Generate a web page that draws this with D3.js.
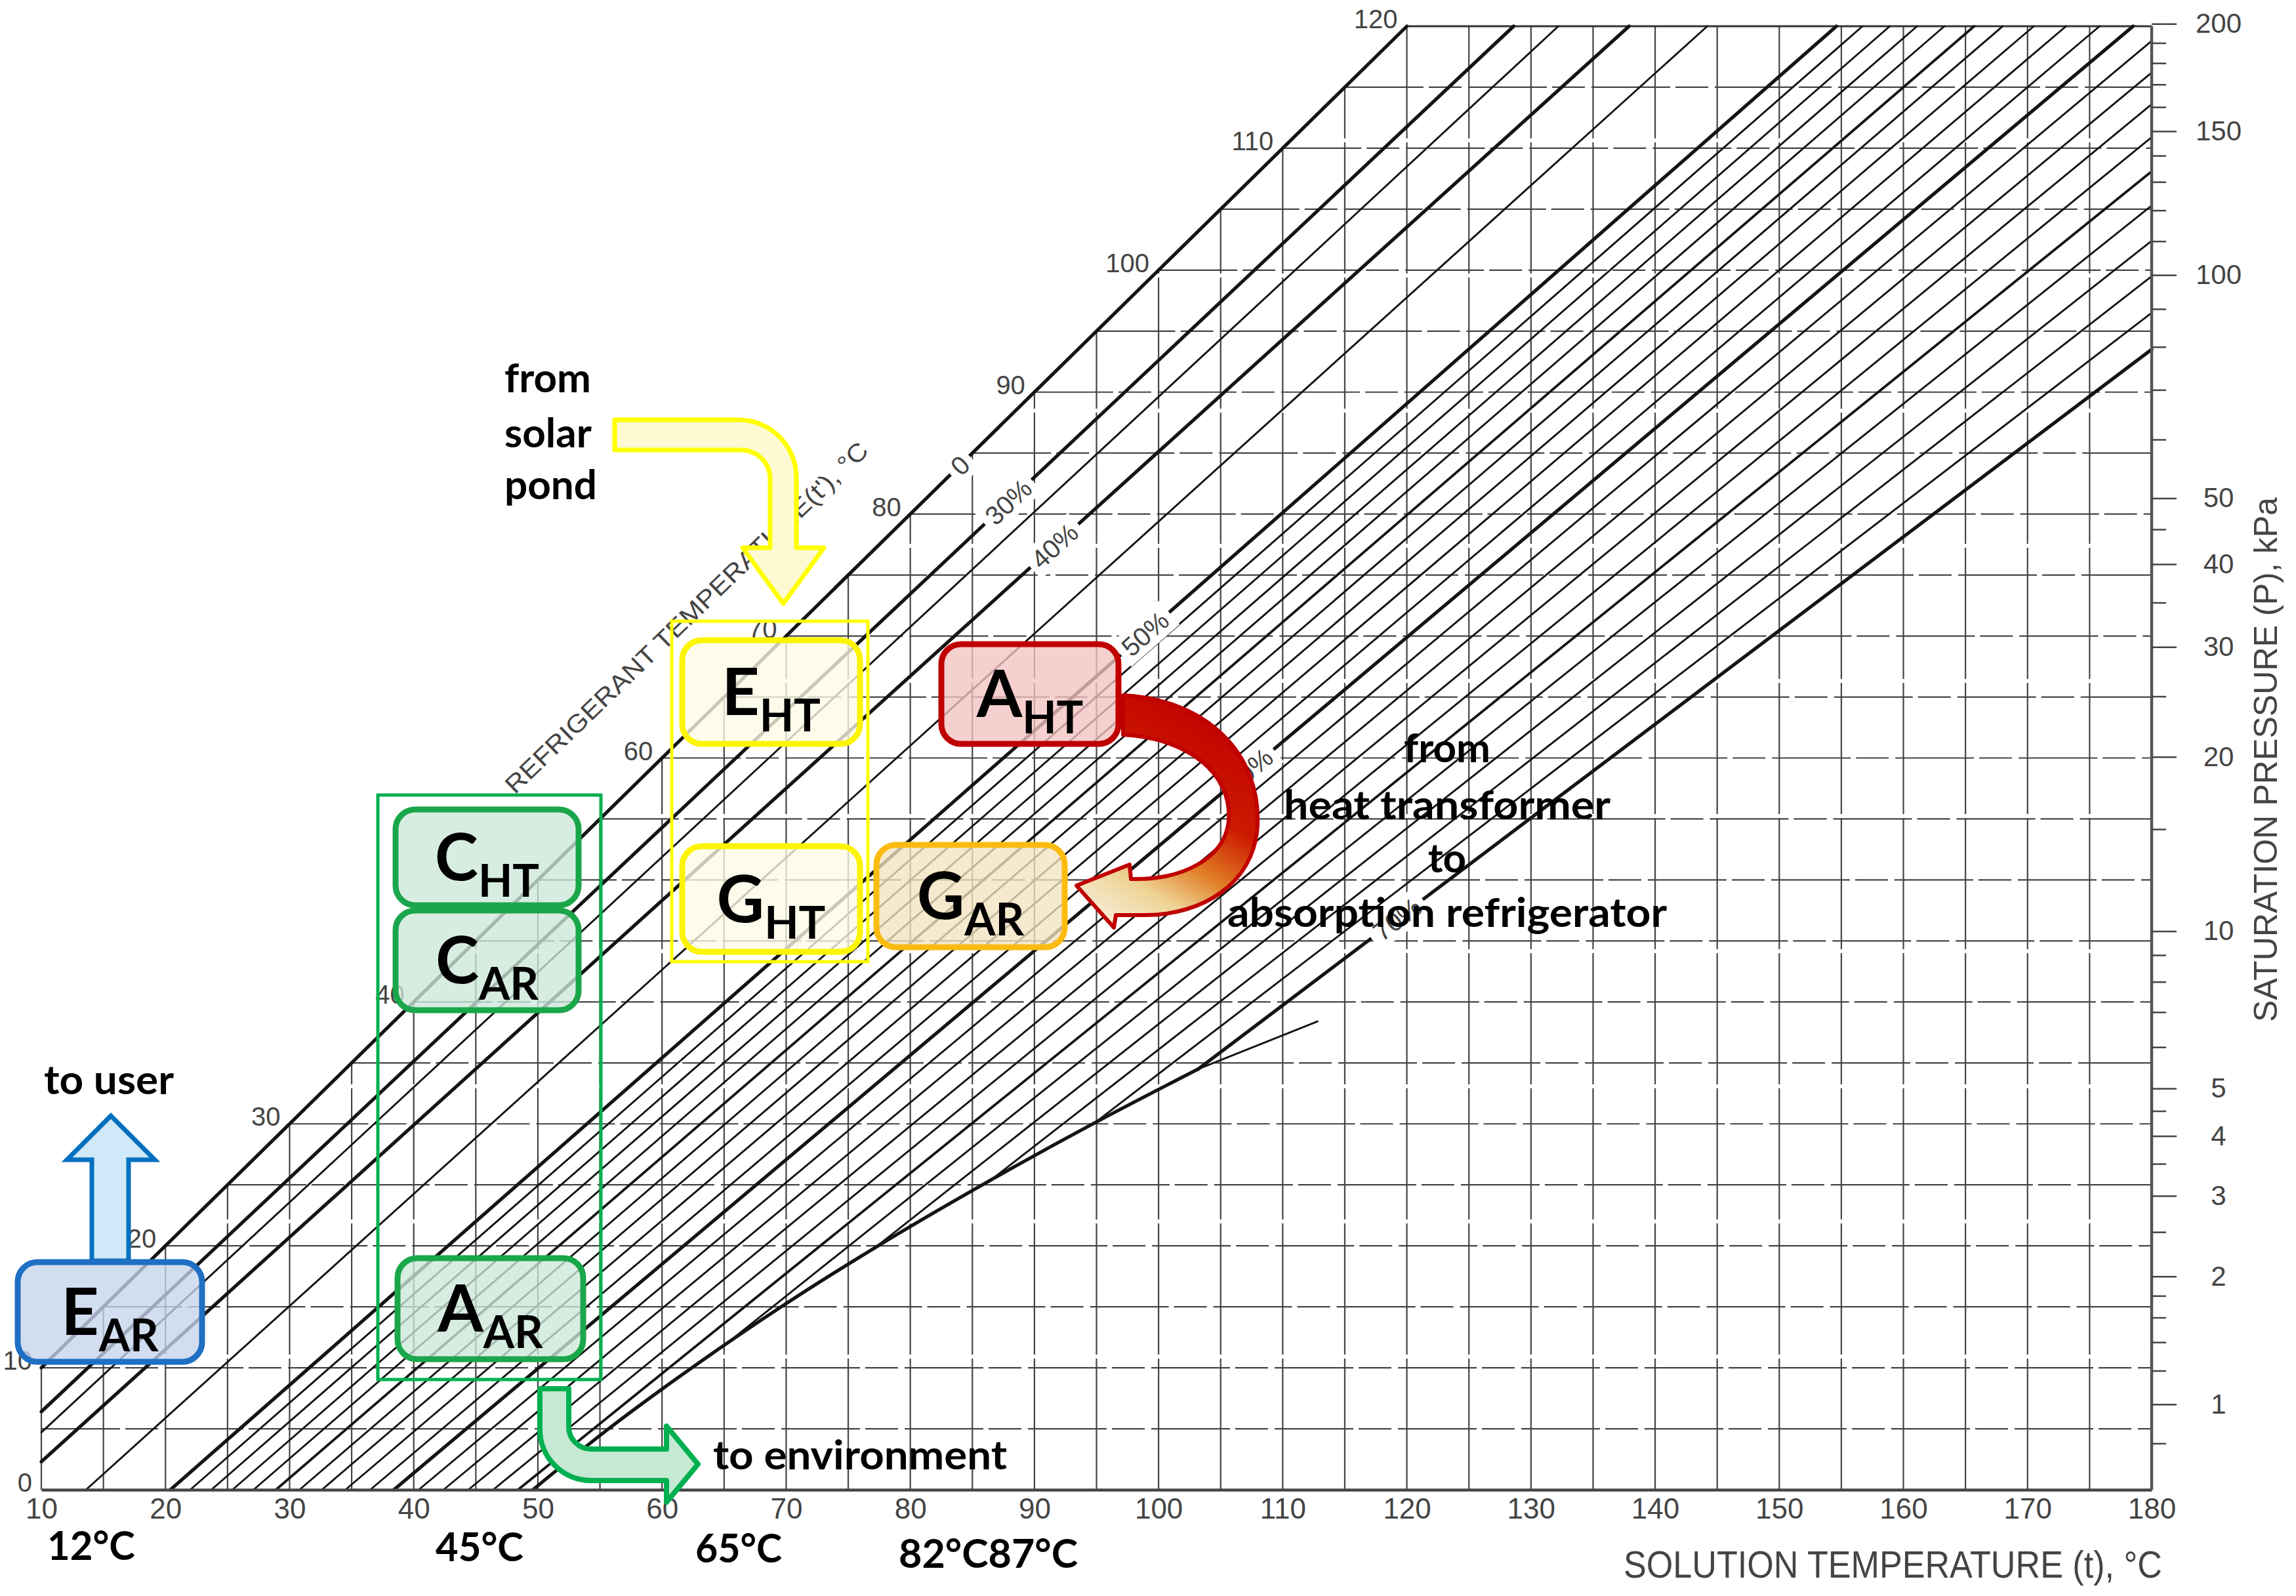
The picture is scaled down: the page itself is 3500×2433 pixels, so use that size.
<!DOCTYPE html>
<html>
<head>
  <meta charset="utf-8">
  <title>LiBr - water equilibrium chart</title>
  <script src="https://d3js.org/d3.v7.min.js"></script>
  <style>
    body { margin: 0; background: #fff; }
    /* scanned chart: grey grid, dark concentration lines */
    .grid line { stroke: #444; stroke-width: 2.2; }
    .grid line.h { stroke-dasharray: 120 8 50 10; }
    .grid line.v { stroke-dasharray: 200 6; }
    .grid line.top { stroke-dasharray: none; stroke: #333; stroke-width: 3; }
    .conc path { fill: none; stroke: #141414; stroke-linecap: round; }
    .scan text { fill: #444; font-family: "Liberation Sans", Arial, sans-serif; }
    .note text { font-family: Lato, "Open Sans", sans-serif; font-weight: 700; fill: #000; }
  </style>
</head>
<body>
<script>
// ---- values ----
var solutionTicks = [10, 20, 30, 40, 50, 60, 70, 80, 90, 100, 110, 120, 130, 140, 150, 160, 170, 180];
// the 50 label is hidden under the condenser boxes in the picture
var refrigerantTicks = [0, 10, 20, 30, 40, 60, 70, 80, 90, 100, 110, 120];

// right axis: pressure (kPa) against refrigerant temperature (deg C) where its tick sits
var pressureKnown = [0.8, 1, 2, 3, 4, 5, 10, 20, 30, 40, 50, 100, 150, 200];
var pressureTemp  = [3.8, 7.0, 17.5, 24.1, 29.0, 32.9, 45.8, 60.1, 69.1, 75.9, 81.3, 99.6, 111.4, 120.2];
var pressureLabels = [1, 2, 3, 4, 5, 10, 20, 30, 40, 50, 100, 150, 200];
var pressureMinor = [0.8, 1.2, 1.4, 1.6, 1.8, 2.5, 3.5, 4.5, 6, 7, 8, 9, 15, 25, 35, 45,
                     60, 70, 80, 90, 110, 120, 130, 140, 160, 170, 180, 190];

// concentration lines (% LiBr): [solution temp, refrigerant temp] at both ends
var concentration = [0, 30, 35, 40, 45, 50, 51, 52, 53, 54, 55, 56, 57, 58, 59, 60,
                     61, 62, 63, 64, 65, 66, 67, 68, 69, 70];
var lowerEnd = [[10, 10], [10, 6.4], [10, 4.7], [10, 2.3], [13.6, 0], [20.4, 0], [22.0, 0],
                [23.7, 0], [25.4, 0], [27.1, 0], [28.9, 0], [30.8, 0], [32.6, 0], [34.5, 0],
                [36.5, 0], [38.4, 0], [40.4, 0], [42.4, 0], [44.4, 0], [46.4, 0], [48.4, 0],
                [65.1, 11.9], [77.1, 19.8], [86.5, 25.4], [95.0, 30.2], [103.2, 34.5]];
var upperEnd = [[120, 120], [128.6, 120], [132.2, 120], [137.9, 120], [144.2, 120], [154.6, 120],
                [156.7, 120], [158.9, 120], [161.1, 120], [163.3, 120], [165.7, 120], [168.0, 120],
                [170.5, 120], [173.1, 120], [175.8, 120], [178.5, 120], [180, 118.8], [180, 116.2],
                [180, 113.6], [180, 110.9], [180, 108.1], [180, 105.3], [180, 102.4], [180, 99.5],
                [180, 96.5], [180, 93.5]];
var boldLines = [0, 30, 40, 50, 60, 70];
var mediumLines = [55, 65];

// crystallization line
var crystallization = [[49.6, 0], [55.7, 5], [62.4, 10], [69.6, 15], [77.4, 20], [85.8, 25],
                       [94.7, 30], [103.2, 34.5]];
var crystallizationTail = [[103.2, 34.5], [112.8, 38.4]];

// where the line labels sit (refrigerant temp along each line)
var lineLabelAt = [[0, 84], [30, 81], [40, 77.4], [50, 70.2], [60, 59], [70, 46.8]];

// ---- page ----
var W = 3500, H = 2433;
var svg = d3.select('body').append('svg').attr('width', W).attr('height', H);
svg.append('rect').attr('width', W).attr('height', H).attr('fill', '#fff');

var x = d3.scaleLinear().domain([10, 180]).range([63, 3280]);
var y = d3.scaleLinear().domain([0, 120]).range([2271, 40]);
var yPressure = d3.scaleLog().domain(pressureKnown).range(pressureTemp.map(y));

// grid: only below / right of the pure-water line
var grid = svg.append('g').attr('class', 'grid');
grid.selectAll('line.v').data(d3.range(10, 180, 5)).enter().append('line')
  .attr('class', 'v')
  .attr('x1', function(d) { return x(d); })
  .attr('x2', function(d) { return x(d); })
  .attr('y1', y(0))
  .attr('y2', function(d) { return y(Math.min(d, 120)); });
grid.selectAll('line.h').data(d3.range(5, 121, 5)).enter().append('line')
  .attr('class', function(d) { return d === 120 ? 'h top' : 'h'; })
  .attr('x1', function(d) { return x(Math.max(d, 10)); })
  .attr('x2', x(180))
  .attr('y1', function(d) { return y(d); })
  .attr('y2', function(d) { return y(d); });

// concentration lines
var seg = d3.line().x(function(d) { return x(d[0]); }).y(function(d) { return y(d[1]); });
var conc = svg.append('g').attr('class', 'conc');
conc.selectAll('path.c').data(concentration).enter().append('path')
  .attr('class', 'c')
  .attr('d', function(c, i) { return seg([lowerEnd[i], upperEnd[i]]); })
  .attr('stroke-width', function(c) {
    if (boldLines.indexOf(c) >= 0) return 5.2;
    if (mediumLines.indexOf(c) >= 0) return 3.8;
    return 2.9;
  });
conc.append('path')
  .attr('d', d3.line().x(function(d) { return x(d[0]); }).y(function(d) { return y(d[1]); })
    .curve(d3.curveMonotoneX)(crystallization))
  .attr('stroke-width', 5.2);
conc.append('path').attr('d', seg(crystallizationTail)).attr('stroke-width', 2.9);

// bottom axis
var xAxis = d3.axisBottom(x).tickValues(solutionTicks).tickSize(0).tickPadding(13)
  .tickFormat(d3.format('d'));
svg.append('g').attr('class', 'scan')
  .attr('transform', 'translate(0,' + y(0) + ')')
  .call(xAxis)
  .attr('font-size', null).attr('font-family', null)
  .call(function(g) { g.select('.domain').attr('stroke', '#454545').attr('stroke-width', 4.5); })
  .call(function(g) { g.selectAll('text').attr('font-size', 44).attr('fill', '#4a4a4a'); });

// right axis (saturation pressure)
svg.append('line')
  .attr('x1', x(180)).attr('x2', x(180)).attr('y1', y(0)).attr('y2', y(120))
  .attr('stroke', '#555').attr('stroke-width', 4.5);
var pMajor = d3.axisRight(yPressure).tickValues(pressureLabels).tickSize(38).tickFormat(d3.format('d'));
var pMinor = d3.axisRight(yPressure).tickValues(pressureMinor).tickSize(22).tickFormat('');
svg.append('g').attr('transform', 'translate(' + x(180) + ',0)').call(pMinor)
  .call(function(g) { g.select('.domain').remove(); })
  .call(function(g) { g.selectAll('line').attr('stroke', '#444').attr('stroke-width', 2.5); });
svg.append('g').attr('class', 'scan').attr('transform', 'translate(' + x(180) + ',0)').call(pMajor)
  .attr('font-size', null).attr('font-family', null)
  .call(function(g) { g.select('.domain').remove(); })
  .call(function(g) { g.selectAll('line').attr('stroke', '#444').attr('stroke-width', 2.5); })
  .call(function(g) {
    g.selectAll('text').attr('x', 102).attr('text-anchor', 'middle')
      .attr('font-size', 42).attr('fill', '#3d3d3d');
  });

// refrigerant temperature labels along the pure-water line
svg.append('g').attr('class', 'scan').selectAll('text').data(refrigerantTicks).enter().append('text')
  .attr('x', function(d) { return x(Math.max(d, 10)) - 14; })
  .attr('y', function(d) { return y(d) + 3; })
  .attr('text-anchor', 'end')
  .attr('font-size', 40)
  .text(function(d) { return d; });

// concentration labels written into the lines
var labels = svg.append('g').attr('class', 'scan');
lineLabelAt.forEach(function(p) {
  var i = concentration.indexOf(p[0]);
  var a = lowerEnd[i], b = upperEnd[i];
  var f = (p[1] - a[1]) / (b[1] - a[1]);
  var t = a[0] + f * (b[0] - a[0]);
  var ang = Math.atan2(y(b[1]) - y(a[1]), x(b[0]) - x(a[0])) * 180 / Math.PI;
  var g = labels.append('g')
    .attr('transform', 'translate(' + x(t) + ',' + y(p[1]) + ') rotate(' + ang + ')');
  var txt = g.append('text').attr('text-anchor', 'middle').attr('dy', '0.36em')
    .attr('font-size', 40).text(p[0] === 0 ? '0' : p[0] + '%');
  var bb = txt.node().getBBox();
  g.insert('rect', 'text').attr('x', bb.x - 9).attr('y', bb.y - 2)
    .attr('width', bb.width + 18).attr('height', bb.height + 4).attr('fill', '#fff');
});

// axis titles
var titles = svg.append('g').attr('class', 'scan');
titles.append('text')
  .attr('x', 2475).attr('y', 2405)
  .attr('font-size', 58).attr('textLength', 821).attr('lengthAdjust', 'spacingAndGlyphs')
  .attr('fill', '#4a4a4a')
  .text('SOLUTION TEMPERATURE (t),  \u00B0C');
titles.append('text')
  .attr('transform', 'translate(3471,1158) rotate(-90)')
  .attr('text-anchor', 'middle')
  .attr('font-size', 50).attr('textLength', 800).attr('lengthAdjust', 'spacingAndGlyphs')
  .attr('fill', '#555')
  .text('SATURATION PRESSURE (P), kPa');
titles.append('text')
  .attr('transform', 'translate(785,1212) rotate(-44)')
  .attr('font-size', 38).attr('textLength', 752).attr('lengthAdjust', 'spacingAndGlyphs')
  .text("REFRIGERANT TEMPERATURE(t'), \u00B0C");

// ---- overlay from the slide ----
var note = svg.append('g').attr('class', 'note');
var defs = svg.append('defs');
var redGrad = defs.append('linearGradient').attr('id', 'redArrow')
  .attr('gradientUnits', 'userSpaceOnUse')
  .attr('x1', 1860).attr('y1', 1080).attr('x2', 1670).attr('y2', 1395);
[[0, '#c00000'], [0.4, '#cc1a00'], [0.62, '#e07d25'], [0.8, '#efd394'], [1, '#f5ecd6']]
  .forEach(function(s) { redGrad.append('stop').attr('offset', s[0]).attr('stop-color', s[1]); });

// thin grouping frames
note.append('rect').attr('x', 576).attr('y', 1212).attr('width', 340).attr('height', 891)
  .attr('fill', 'none').attr('stroke', '#00b050').attr('stroke-width', 5);
note.append('rect').attr('x', 1024).attr('y', 947).attr('width', 299).attr('height', 519)
  .attr('fill', 'none').attr('stroke', '#ffff00').attr('stroke-width', 5);

// arrows
note.append('path') // from solar pond
  .attr('d', 'M937,640 H1126 A88,88 0 0 1 1214,728 V835 H1256 L1194,920 L1132,835 H1174 V730 A44,44 0 0 0 1130,686 H937 Z')
  .attr('fill', '#fdf9d2').attr('stroke', '#ffff00').attr('stroke-width', 7).attr('stroke-linejoin', 'round');
note.append('path') // to user
  .attr('d', 'M140,1922 V1768 H102 L169,1701 L236,1768 H196 V1922 Z')
  .attr('fill', '#cfe9f8').attr('stroke', '#0070c0').attr('stroke-width', 7);
note.append('path') // to environment
  .attr('d', 'M823,2117 H867 V2175 A34,34 0 0 0 901,2209 H1016 V2174 L1064,2232 L1016,2290 V2257 H901 A78,78 0 0 1 823,2179 Z')
  .attr('fill', '#c6e9d3').attr('stroke', '#00b050').attr('stroke-width', 8).attr('stroke-linejoin', 'round');
note.append('path') // heat transformer -> absorption refrigerator
  .attr('d', 'M1712,1060 C1840,1066 1922,1150 1917,1258 C1912,1348 1832,1395 1745,1395 L1701,1395 ' +
             'L1698,1414 L1641,1350 L1722,1318 L1724,1340 C1800,1342 1868,1310 1873,1250 ' +
             'C1878,1180 1812,1125 1712,1120 Z')
  .attr('fill', 'url(#redArrow)').attr('stroke', '#c00000').attr('stroke-width', 6).attr('stroke-linejoin', 'round');

// component boxes
var boxes = [
  { main: 'E', sub: 'AR', x0: 27,   y0: 1924, x1: 308,  y1: 2076, stroke: '#1f6fc4', fill: '#c6d4ec' },
  { main: 'C', sub: 'HT', x0: 603,  y0: 1234, x1: 882,  y1: 1380, stroke: '#1aa64a', fill: '#cde8d8' },
  { main: 'C', sub: 'AR', x0: 603,  y0: 1388, x1: 882,  y1: 1540, stroke: '#1aa64a', fill: '#cde8d8' },
  { main: 'A', sub: 'AR', x0: 606,  y0: 1918, x1: 889,  y1: 2072, stroke: '#1aa64a', fill: '#cde8d8' },
  { main: 'E', sub: 'HT', x0: 1040, y0: 976,  x1: 1311, y1: 1134, stroke: '#fcf400', fill: '#fdfbe6' },
  { main: 'G', sub: 'HT', x0: 1040, y0: 1290, x1: 1311, y1: 1451, stroke: '#fcf400', fill: '#fdfbe6' },
  { main: 'A', sub: 'HT', x0: 1435, y0: 982,  x1: 1705, y1: 1134, stroke: '#c00000', fill: '#f3c3c2' },
  { main: 'G', sub: 'AR', x0: 1336, y0: 1288, x1: 1623, y1: 1444, stroke: '#fcbb10', fill: '#f2e3c0' }
];
var bx = note.selectAll('g.box').data(boxes).enter().append('g').attr('class', 'box');
bx.append('rect')
  .attr('x', function(d) { return d.x0; }).attr('y', function(d) { return d.y0; })
  .attr('width', function(d) { return d.x1 - d.x0; }).attr('height', function(d) { return d.y1 - d.y0; })
  .attr('rx', 30).attr('ry', 30)
  .attr('fill', function(d) { return d.fill; }).attr('fill-opacity', 0.78)
  .attr('stroke', function(d) { return d.stroke; }).attr('stroke-width', 9);
var bt = bx.append('text')
  .attr('x', function(d) { return (d.x0 + d.x1) / 2; })
  .attr('y', function(d) { return (d.y0 + d.y1) / 2 + 35; })
  .attr('text-anchor', 'middle');
bt.append('tspan').attr('font-size', 100).text(function(d) { return d.main; });
bt.append('tspan').attr('font-size', 68).attr('dy', 25).text(function(d) { return d.sub; });

// captions
var captions = [
  { text: 'from', x: 769, y: 598, anchor: 'start' },
  { text: 'solar', x: 769, y: 682, anchor: 'start' },
  { text: 'pond', x: 769, y: 761, anchor: 'start' },
  { text: 'to user', x: 166, y: 1668, anchor: 'middle', len: 198 },
  { text: 'to environment', x: 1087, y: 2240, anchor: 'start', len: 448 },
  { text: 'from', x: 2206, y: 1162, anchor: 'middle' },
  { text: 'heat transformer', x: 2206, y: 1249, anchor: 'middle', len: 498 },
  { text: 'to', x: 2206, y: 1330, anchor: 'middle' },
  { text: 'absorption refrigerator', x: 2206, y: 1413, anchor: 'middle', len: 670 },
  { text: '12\u00B0C', x: 72, y: 2378, anchor: 'start', len: 134 },
  { text: '45\u00B0C', x: 664, y: 2380, anchor: 'start', len: 134 },
  { text: '65\u00B0C', x: 1060, y: 2382, anchor: 'start', len: 132 },
  { text: '82\u00B0C87\u00B0C', x: 1370, y: 2390, anchor: 'start', len: 273 }
];
note.selectAll('text.cap').data(captions).enter().append('text')
  .attr('class', 'cap')
  .attr('x', function(d) { return d.x; })
  .attr('y', function(d) { return d.y; })
  .attr('text-anchor', function(d) { return d.anchor; })
  .attr('font-size', 62)
  .attr('textLength', function(d) { return d.len || null; })
  .attr('lengthAdjust', 'spacingAndGlyphs')
  .text(function(d) { return d.text; });
</script>
</body>
</html>
